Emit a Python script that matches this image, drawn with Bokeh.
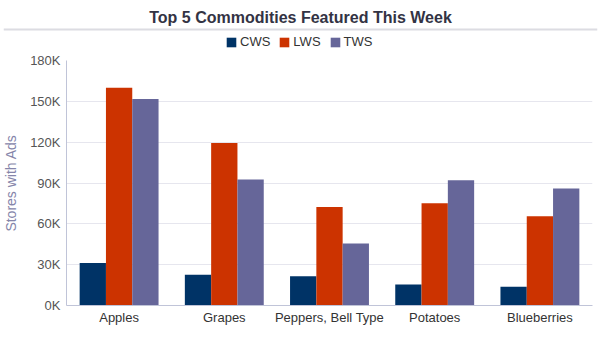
from bokeh.plotting import figure
from bokeh.layouts import column
from bokeh.models import (FactorRange, ColumnDataSource, Legend, LegendItem, Label,
                          Range1d, CustomJSTickFormatter, FixedTicker)
from bokeh.transform import dodge
from bokeh.embed import file_html
from bokeh.resources import INLINE

categories = ["Apples", "Grapes", "Peppers, Bell Type", "Potatoes", "Blueberries"]
cws = [31300, 22600, 21400, 15500, 13800]
lws = [160000, 119400, 72400, 75100, 65500]
tws = [151700, 92600, 45600, 92100, 86000]
series_names = ["CWS", "LWS", "TWS"]
colors = ["#003366", "#cc3300", "#666699"]
y_ticks = [0, 30000, 60000, 90000, 120000, 150000, 180000]
title_text = "Top 5 Commodities Featured This Week"

FONT = "Liberation Sans"

# ---------- header: title, rule, legend ----------
hdr = figure(title=None, width=600, height=52,
             x_range=Range1d(3, 597), y_range=Range1d(52, 0),
             x_axis_location=None, y_axis_location=None,
             output_backend="svg", toolbar_location=None,
             min_border_left=3, min_border_right=3, min_border_top=0, min_border_bottom=0)
hdr.grid.visible = False
hdr.outline_line_color = None

hdr.add_layout(Label(x=300, y=17, text=title_text, text_align="center", text_baseline="middle",
                     text_font=FONT, text_font_size="16px", text_font_style="bold",
                     text_color="#333344"))
# separator rule under the title
hdr.line(x=[3, 597], y=[29, 29], line_color="#dcdce2", line_width=2)

# legend swatches (zero-size placeholder glyphs, only used for the legend)
dummy = ColumnDataSource(dict(x=[300], top=[0]))
hdr_r = [hdr.vbar(x="x", top="top", bottom=0, width=0, source=dummy, fill_color=c, line_color=None)
         for c in colors]
legend = Legend(items=[LegendItem(label=n, renderers=[r]) for n, r in zip(series_names, hdr_r)],
                orientation="horizontal", location=(222, 3), label_text_font=FONT,
                label_text_font_size="13px", label_text_color="#333333",
                glyph_width=12, glyph_height=12, spacing=8, label_standoff=3,
                padding=2, margin=0, border_line_color=None, background_fill_alpha=0,
                label_height=14)
hdr.add_layout(legend)

# ---------- main chart ----------
src = ColumnDataSource(dict(cat=categories, CWS=cws, LWS=lws, TWS=tws))

p = figure(width=600, height=292, x_range=FactorRange(factors=categories, range_padding=0),
           y_range=(0, 180000), output_backend="svg", toolbar_location=None,
           min_border_left=66, min_border_right=8, min_border_top=8, min_border_bottom=39)
p.outline_line_color = None

for name, col, off in zip(series_names, colors, [-0.25, 0, 0.25]):
    p.vbar(x=dodge("cat", off, range=p.x_range), top=name, width=0.25, source=src,
           fill_color=col, line_color=None)

p.yaxis.ticker = FixedTicker(ticks=y_ticks)
p.yaxis.formatter = CustomJSTickFormatter(code="return (tick/1000).toFixed(0) + 'K';")
p.yaxis.axis_label = "Stores with Ads"
p.yaxis.axis_label_text_font = FONT
p.yaxis.axis_label_text_font_style = "normal"
p.yaxis.axis_label_text_font_size = "14px"
p.yaxis.axis_label_text_color = "#8585aa"
p.yaxis.axis_label_standoff = 8
p.yaxis.major_label_text_font = FONT
p.yaxis.major_label_text_font_size = "13px"
p.yaxis.major_label_text_color = "#555555"
p.yaxis.major_tick_line_color = None
p.yaxis.major_tick_out = 0
p.yaxis.major_tick_in = 0
p.yaxis.minor_tick_line_color = None
p.yaxis.major_label_standoff = 6
p.yaxis.axis_line_color = "#c0c4d8"

p.xaxis.major_label_text_font = FONT
p.xaxis.major_label_text_font_size = "13px"
p.xaxis.major_label_text_color = "#333333"
p.xaxis.major_tick_line_color = None
p.xaxis.major_tick_out = 0
p.xaxis.major_tick_in = 0
p.xaxis.axis_line_color = "#c0c4d8"
p.xaxis.major_label_standoff = 4

p.xgrid.grid_line_color = None
p.ygrid.grid_line_color = "#e6e6ee"

layout = column(column(hdr), p, spacing=0)
open("out.html", "w").write(file_html(layout, INLINE))
